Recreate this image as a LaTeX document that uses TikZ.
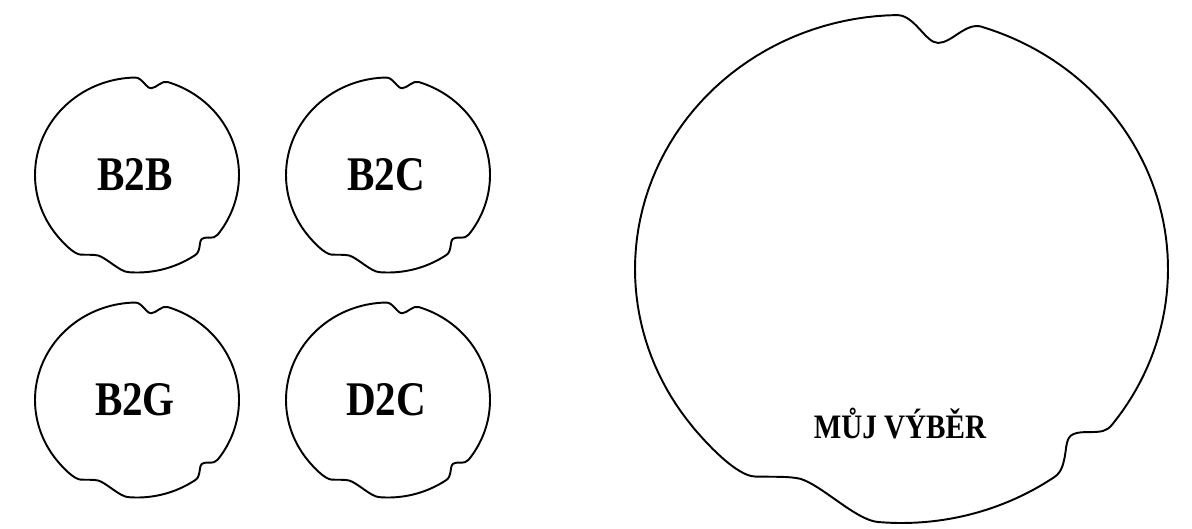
\documentclass[tikz,border=0pt]{standalone}
\usepackage{fontspec}
\newfontfamily\lblfont{Liberation Serif}[FakeStretch=0.85]
\begin{document}
\begin{tikzpicture}[x=0.02cm, y=-0.02cm,
  blobline/.style={draw=black, line width=1.1pt, line join=round},
  lbl/.style={inner sep=0pt, anchor=base, font=\lblfont\bfseries\fontsize{27.5}{30}\selectfont},
  biglbl/.style={inner sep=0pt, anchor=base, font=\lblfont\bfseries\fontsize{19.5}{22}\selectfont},
  pics/blob/.style={code={
    % unit disc outline (y points down) with a notch at the top,
    % a step at the lower right and a flattened lower left
    \draw[blobline]
      plot[domain=180:269, samples=40] ({cos(\x)},{sin(\x)})
      .. controls (0.05,-1.0) and (0.09,-0.89) .. (0.137,-0.890)
      .. controls (0.19,-0.89) and (0.24,-0.972) .. (0.301,-0.954)
      -- plot[domain=287.5:397.7, samples=60] ({cos(\x)},{sin(\x)})
      .. controls (0.77,0.640) and (0.75,0.642) .. (0.70,0.642)
      .. controls (0.63,0.642) and (0.625,0.66) .. (0.618,0.70)
      .. controls (0.61,0.77) and (0.60,0.80) .. (0.575,0.818)
      -- plot[domain=54.9:95, samples=30] ({cos(\x)},{sin(\x)})
      .. controls (-0.17,0.99) and (-0.30,0.85) .. (-0.38,0.826)
      .. controls (-0.42,0.815) and (-0.50,0.819) .. (-0.55,0.817)
      .. controls (-0.62,0.815) and (-0.735,0.683) .. (-0.785,0.620)
      -- plot[domain=141.7:180, samples=20] ({cos(\x)},{sin(\x)})
      -- cycle;
  }}]
\useasboundingbox (0,0) rectangle (1192,528);

% four small discs
\pic[xscale=102, yscale=97.5] at (137,175) {blob};
\pic[xscale=102, yscale=97.5] at (388,175) {blob};
\pic[xscale=102, yscale=97.5] at (137,400) {blob};
\pic[xscale=102, yscale=97.5] at (388,400) {blob};

% large disc
\pic[xscale=266.5, yscale=254] at (901.5,269) {blob};

% labels
\node[lbl] (b2b) at (135,190) {B2B};
\node[lbl] (b2c) at (386,190) {B2C};
\node[lbl] (b2g) at (135,415) {B2G};
\node[lbl] (d2c) at (386,415) {D2C};
\node[biglbl] (vyber) at (900,438) {MŮJ VÝBĚR};
\end{tikzpicture}
\end{document}
